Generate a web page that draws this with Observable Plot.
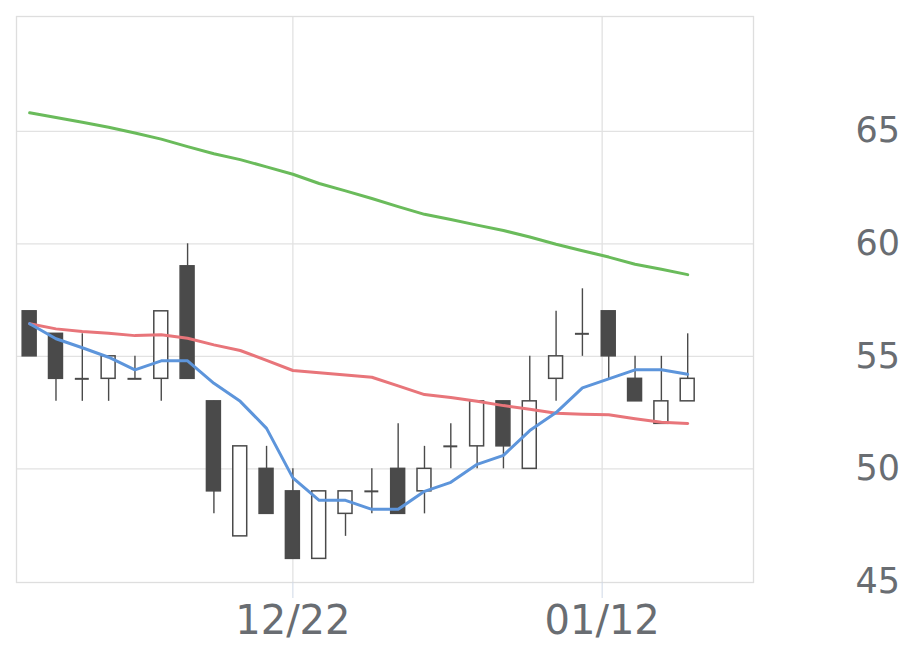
<!DOCTYPE html>
<html>
<head>
<meta charset="utf-8">
<script src="https://cdn.jsdelivr.net/npm/d3@7"></script>
<script src="https://cdn.jsdelivr.net/npm/@observablehq/plot@0.6"></script>
<style>
  html, body { margin: 0; padding: 0; background: #fff; }
  svg { display: block; }
</style>
</head>
<body>
<div id="chart"></div>
<script>
const openV  = [57,56,54,54,54,54,59,53,47,50,49,46,48,49,50,49,51,51,53,50,54,56,57,54,52,53];
const closeV = [55,54,54,55,54,57,54,49,51,48,46,49,49,49,48,50,51,53,51,53,55,56,55,53,53,54];
const highV  = [57,56,56,55,55,57,60,53,51,51,50,49,49,50,52,51,52,53,53,55,57,58,57,55,55,56];
const lowV   = [55,53,53,53,54,53,54,48,47,48,46,46,47,48,48,48,50,50,50,50,53,55,54,53,52,53];
const ma5  = [56.45,55.78,55.38,54.96,54.4,54.8,54.8,53.8,53.0,51.8,49.6,48.6,48.6,48.2,48.2,49.0,49.4,50.2,50.6,51.7,52.5,53.6,54.0,54.4,54.4,54.2];
const ma25 = [56.45,56.22,56.1,56.03,55.92,55.96,55.8,55.51,55.26,54.82,54.37,54.27,54.17,54.07,53.69,53.3,53.17,53.0,52.81,52.65,52.47,52.43,52.4,52.23,52.07,52.02];
const ma75 = [65.82,65.61,65.40,65.18,64.92,64.65,64.32,64.0,63.74,63.42,63.09,62.68,62.35,62.01,61.65,61.31,61.08,60.83,60.59,60.30,59.98,59.69,59.41,59.09,58.87,58.63];
const xTickIdx = [10, 21.75];
const xTickLabels = ["12/22", "01/12"];
const yTicks = [45, 50, 55, 60, 65];

const candles = openV.map((o, i) => ({i, open: o, close: closeV[i], high: highV[i], low: lowV[i]}));
const bodies = candles.filter(d => d.open !== d.close);
const dojis = candles.filter(d => d.open === d.close);
const mas = [];
ma75.forEach((v, i) => mas.push({i, v, s: "ma75"}));
ma25.forEach((v, i) => mas.push({i, v, s: "ma25"}));
ma5.forEach((v, i) => mas.push({i, v, s: "ma5"}));

const HW = 0.265;
const ink = "#4a4a4a";

const chart = Plot.plot({
  width: 920,
  height: 669,
  marginLeft: 16,
  marginRight: 167,
  marginTop: 16,
  marginBottom: 87,
  style: {fontFamily: "DejaVu Sans", background: "#fff"},
  x: {type: "linear", domain: [-0.5, 27.5], label: null},
  y: {domain: [44.95, 70.1], label: null},
  color: {domain: ["ma5", "ma25", "ma75"], range: ["#5d95db", "#e8757a", "#6abb5b"]},
  marks: [
    Plot.gridY(yTicks.slice(1), {stroke: "#e2e2e2", strokeOpacity: 1, strokeWidth: 1.3}),
    Plot.gridX(xTickIdx, {stroke: "#e2e2e2", strokeOpacity: 1, strokeWidth: 1.3}),
    Plot.frame({stroke: "#dedede", strokeWidth: 1.3}),
    Plot.axisY(yTicks, {anchor: "right", label: null, tickSize: 0, tickPadding: 102, fontSize: 35, fill: "#696d72"}),
    Plot.axisX(xTickIdx, {anchor: "bottom", label: null, tickSize: 16, tickPadding: 7, fontSize: 40, stroke: "#cfd8e6", fill: "#696d72",
      tickFormat: (d) => xTickLabels[xTickIdx.indexOf(d)]}),
    Plot.ruleX(candles, {x: "i", y1: "low", y2: "high", stroke: ink, strokeWidth: 1.4}),
    Plot.rect(bodies, {
      x1: d => d.i - HW, x2: d => d.i + HW,
      y1: "open", y2: "close",
      fill: d => d.close > d.open ? "#ffffff" : ink,
      stroke: ink, strokeWidth: 1.5
    }),
    Plot.ruleY(dojis, {y: "open", x1: d => d.i - HW, x2: d => d.i + HW, stroke: ink, strokeWidth: 2}),
    Plot.line(mas, {x: "i", y: "v", z: "s", stroke: "s", strokeWidth: 3, curve: "linear"})
  ]
});
document.getElementById("chart").appendChild(chart);
</script>
</body>
</html>
